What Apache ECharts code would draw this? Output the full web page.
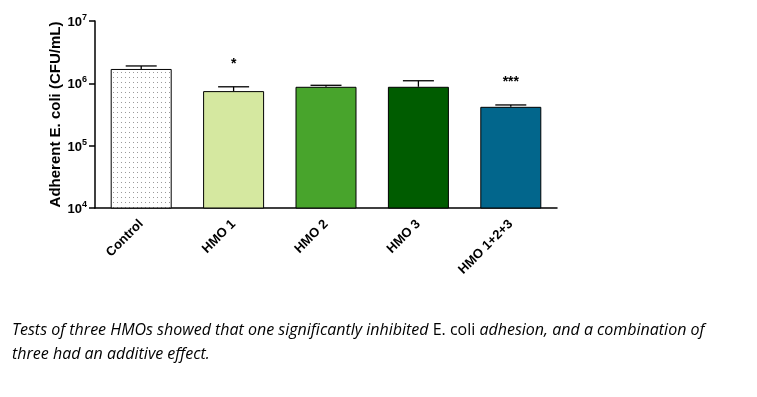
<!DOCTYPE html>
<html>
<head>
<meta charset="utf-8">
<script src="https://cdn.jsdelivr.net/npm/echarts@6/dist/echarts.min.js"></script>
<style>
html,body{margin:0;padding:0;background:#fff;}
#chart{width:757px;height:397px;}
</style>
</head>
<body>
<div id="chart"></div>
<script>
var categories = ['Control', 'HMO 1', 'HMO 2', 'HMO 3', 'HMO 1+2+3'];
var means = [1700000, 750000, 880000, 880000, 420000];
var errorTops = [1900000, 880000, 930000, 1100000, 450000];
var stars = ['', '*', '', '', '***'];
var barColors = ['dots', '#d5e8a0', '#48a42c', '#005c00', '#02668c'];
var yAxisTitle = 'Adherent E. coli (CFU/mL)';

// dotted pattern for control bar
var pc = document.createElement('canvas');
pc.width = 4; pc.height = 5;
var pctx = pc.getContext('2d');
pctx.fillStyle = '#ffffff';
pctx.fillRect(0, 0, 4, 5);
pctx.fillStyle = '#9a9a9a';
pctx.fillRect(1, 2, 1, 1);

var barData = means.map(function (v, i) {
  return {
    value: v,
    itemStyle: {
      color: barColors[i] === 'dots' ? { image: pc, repeat: 'repeat' } : barColors[i]
    }
  };
});

var FONT = 'Liberation Sans, Arial, sans-serif';
var chart = echarts.init(document.getElementById('chart'), null, { renderer: 'canvas' });
chart.setOption({
  animation: false,
  backgroundColor: '#ffffff',
  grid: { left: 95, right: 200, top: 21, bottom: 189, containLabel: false },
  xAxis: {
    type: 'category',
    data: categories,
    boundaryGap: true,
    axisLine: { lineStyle: { color: '#000', width: 1.5 } },
    axisTick: { show: false },
    axisLabel: {
      rotate: 45,
      color: '#000',
      fontFamily: FONT,
      fontWeight: 'bold',
      fontSize: 13,
      margin: 14
    }
  },
  yAxis: {
    type: 'log',
    logBase: 10,
    min: 10000,
    max: 10000000,
    axisLine: { show: true, lineStyle: { color: '#000', width: 1.5 } },
    axisTick: { show: true, length: 6, lineStyle: { color: '#000', width: 1.5 } },
    splitLine: { show: false },
    minorTick: { show: false },
    axisLabel: {
      margin: 8,
      color: '#000',
      formatter: function (v) {
        var e = Math.round(Math.log10(v));
        return '{b|10}{s|' + e + '}';
      },
      rich: {
        b: { fontFamily: FONT, fontWeight: 'bold', fontSize: 13, color: '#000', verticalAlign: 'bottom', padding: [0, 0, 0, 0] },
        s: { fontFamily: FONT, fontWeight: 'bold', fontSize: 9, color: '#000', verticalAlign: 'bottom', padding: [0, 0, 7, 0] }
      }
    },
    name: yAxisTitle,
    nameLocation: 'middle',
    nameGap: 32,
    nameMoveOverlap: false,
    nameRotate: 90,
    nameTextStyle: {
      fontFamily: FONT,
      fontWeight: 'bold',
      fontSize: 15,
      color: '#000'
    }
  },
  series: [
    {
      type: 'bar',
      data: barData,
      barWidth: 61,
      itemStyle: { borderColor: '#000', borderWidth: 1 },
      z: 2
    },
    {
      type: 'custom',
      data: categories.map(function (c, i) { return [i, means[i], errorTops[i]]; }),
      z: 3,
      renderItem: function (params, api) {
        var i = api.value(0);
        var base = api.coord([i, api.value(1)]);
        var top = api.coord([i, api.value(2)]);
        var half = 15.5;
        var children = [
          { type: 'line', shape: { x1: base[0], y1: base[1], x2: top[0], y2: top[1] }, style: { stroke: '#000', lineWidth: 1.3 } },
          { type: 'line', shape: { x1: base[0] - half, y1: top[1], x2: base[0] + half, y2: top[1] }, style: { stroke: '#000', lineWidth: 1.3 } }
        ];
        var s = stars[params.dataIndex];
        if (s) {
          children.push({
            type: 'text',
            style: {
              text: s,
              x: base[0],
              y: top[1] - 16,
              align: 'center',
              verticalAlign: 'bottom',
              fontFamily: FONT,
              fontWeight: 'bold',
              fontSize: 14,
              fill: '#000'
            }
          });
        }
        return { type: 'group', children: children };
      }
    }
  ],
  graphic: [
    {
      type: 'text',
      left: 12,
      top: 322,
      style: {
        text: '{i|Tests of three HMOs showed that one significantly inhibited }{n|E. coli}{i| adhesion, and a combination of}',
        rich: {
          i: { fontFamily: 'Open Sans, sans-serif', fontStyle: 'italic', fontSize: 16, fill: '#000' },
          n: { fontFamily: 'Open Sans, sans-serif', fontSize: 16, fill: '#000' }
        }
      }
    },
    {
      type: 'text',
      left: 12,
      top: 346,
      style: {
        text: 'three had an additive effect.',
        fontFamily: 'Open Sans, sans-serif',
        fontStyle: 'italic',
        fontSize: 16,
        fill: '#000'
      }
    }
  ]
});
</script>
</body>
</html>
